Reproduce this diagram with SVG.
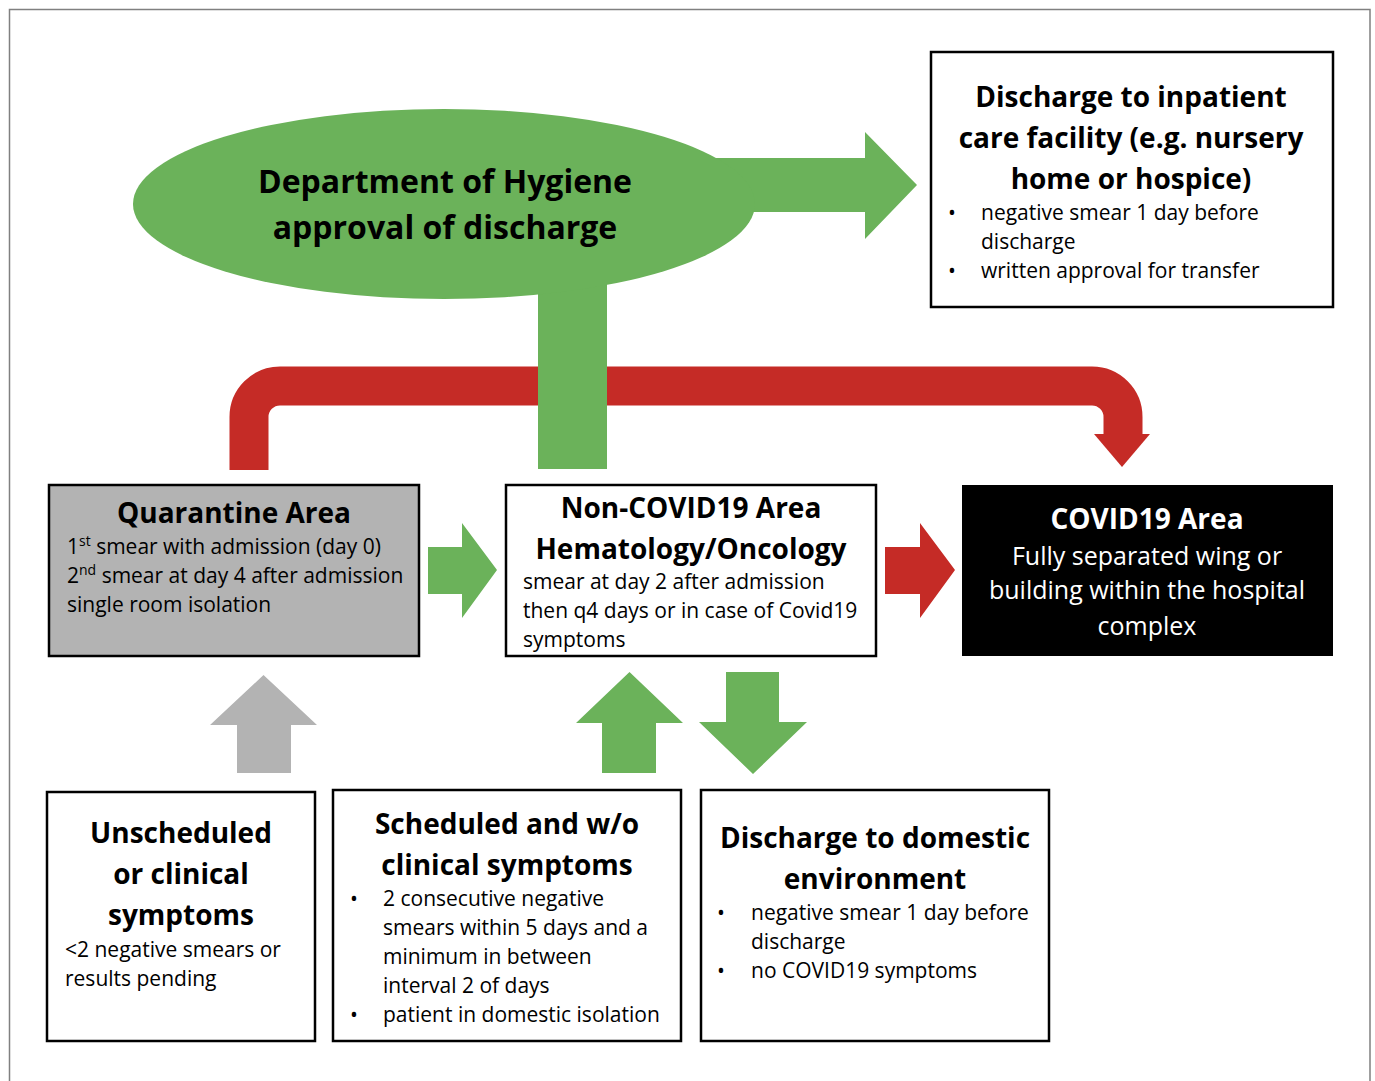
<svg xmlns="http://www.w3.org/2000/svg" width="1375" height="1081" viewBox="0 0 1375 1081">
<style>
  text { font-family: "Open Sans", "Noto Sans", "Liberation Sans", sans-serif; fill: #000; }
  .t { font-weight: bold; font-size: 28px; text-anchor: middle; }
  .big { font-weight: bold; font-size: 32px; text-anchor: middle; }
  .b { font-size: 21px; }
  .w { fill: #fff; }
  .box { fill: #fff; stroke: #000; stroke-width: 2.5; }
  .green { fill: #6bb25a; }
  .red { fill: #c52b26; }
  .grey { fill: #b3b3b3; }
  .sup { font-size: 14px; }
</style>
<rect x="0" y="0" width="1375" height="1081" fill="#fff"/>
<path d="M9.5 1081 V9.5 H1370 V1081" fill="none" stroke="#808080" stroke-width="1.5"/>

<g id="connectors">
  <path d="M249 470 V417 A31 31 0 0 1 280 386 H1092 A31 31 0 0 1 1123 417 V436" fill="none" stroke="#c52b26" stroke-width="39"/>
  <polygon class="red" points="1094,434 1150,434 1122,467"/>
  <polygon class="green" points="700,158 865,158 865,132 917,185 865,239 865,212 700,212"/>
  <rect class="green" x="538" y="270" width="69" height="199"/>
  <polygon class="green" points="428,547 462,547 462,523 497,570 462,618 462,594 428,594"/>
  <polygon class="red" points="885,547 920,547 920,523 955,570 920,618 920,594 885,594"/>
  <polygon class="grey" points="237,773 237,725 210,725 263.5,675 317,725 291,725 291,773"/>
  <polygon class="green" points="602,773 602,723 576,723 629.5,672 683,723 656,723 656,773"/>
  <polygon class="green" points="726,672 779,672 779,722 807,722 753,774 699,722 726,722"/>
</g>

<g id="hygiene">
  <ellipse class="green" cx="444" cy="204" rx="311" ry="95"/>
  <text class="big" x="445" y="193">Department of Hygiene</text>
  <text class="big" x="445" y="239">approval of discharge</text>
</g>

<g id="inpatient">
  <rect class="box" x="931" y="52" width="402" height="255"/>
  <text class="t" x="1131" y="107">Discharge to inpatient</text>
  <text class="t" x="1131" y="148">care facility (e.g. nursery</text>
  <text class="t" x="1131" y="189">home or hospice)</text>
  <text class="b" x="948" y="220">•</text>
  <text class="b" x="981" y="220">negative smear 1 day before</text>
  <text class="b" x="981" y="249">discharge</text>
  <text class="b" x="948" y="278">•</text>
  <text class="b" x="981" y="278">written approval for transfer</text>
</g>

<g id="quarantine">
  <rect class="box" x="49" y="485" width="370" height="171" style="fill:#b3b3b3"/>
  <text class="t" x="234" y="523">Quarantine Area</text>
  <text class="b" x="67" y="554">1<tspan class="sup" dy="-8">st</tspan><tspan dy="8"> smear with admission (day 0)</tspan></text>
  <text class="b" x="67" y="583">2<tspan class="sup" dy="-8">nd</tspan><tspan dy="8"> smear at day 4 after admission</tspan></text>
  <text class="b" x="67" y="612">single room isolation</text>
</g>

<g id="noncovid">
  <rect class="box" x="506" y="485" width="370" height="171"/>
  <text class="t" x="691" y="518">Non-COVID19 Area</text>
  <text class="t" x="691" y="559">Hematology/Oncology</text>
  <text class="b" x="523" y="589">smear at day 2 after admission</text>
  <text class="b" x="523" y="618">then q4 days or in case of Covid19</text>
  <text class="b" x="523" y="647">symptoms</text>
</g>

<g id="covid">
  <rect x="962" y="485" width="371" height="171" fill="#000"/>
  <text class="t w" x="1147" y="529">COVID19 Area</text>
  <text class="w" x="1147" y="565" font-size="25" text-anchor="middle">Fully separated wing or</text>
  <text class="w" x="1147" y="599" font-size="25" text-anchor="middle">building within the hospital</text>
  <text class="w" x="1147" y="635" font-size="25" text-anchor="middle">complex</text>
</g>

<g id="unscheduled">
  <rect class="box" x="47" y="792" width="268" height="249"/>
  <text class="t" x="181" y="843">Unscheduled</text>
  <text class="t" x="181" y="884">or clinical</text>
  <text class="t" x="181" y="925">symptoms</text>
  <text class="b" x="65" y="957">&lt;2 negative smears or</text>
  <text class="b" x="65" y="986">results pending</text>
</g>

<g id="scheduled">
  <rect class="box" x="333" y="790" width="348" height="251"/>
  <text class="t" x="507" y="834">Scheduled and w/o</text>
  <text class="t" x="507" y="875">clinical symptoms</text>
  <text class="b" x="350" y="906">•</text>
  <text class="b" x="383" y="906">2 consecutive negative</text>
  <text class="b" x="383" y="935">smears within 5 days and a</text>
  <text class="b" x="383" y="964">minimum in between</text>
  <text class="b" x="383" y="993">interval 2 of days</text>
  <text class="b" x="350" y="1022">•</text>
  <text class="b" x="383" y="1022">patient in domestic isolation</text>
</g>

<g id="domestic">
  <rect class="box" x="701" y="790" width="348" height="251"/>
  <text class="t" x="875" y="848">Discharge to domestic</text>
  <text class="t" x="875" y="889">environment</text>
  <text class="b" x="717" y="920">•</text>
  <text class="b" x="751" y="920">negative smear 1 day before</text>
  <text class="b" x="751" y="949">discharge</text>
  <text class="b" x="717" y="978">•</text>
  <text class="b" x="751" y="978">no COVID19 symptoms</text>
</g>
</svg>
